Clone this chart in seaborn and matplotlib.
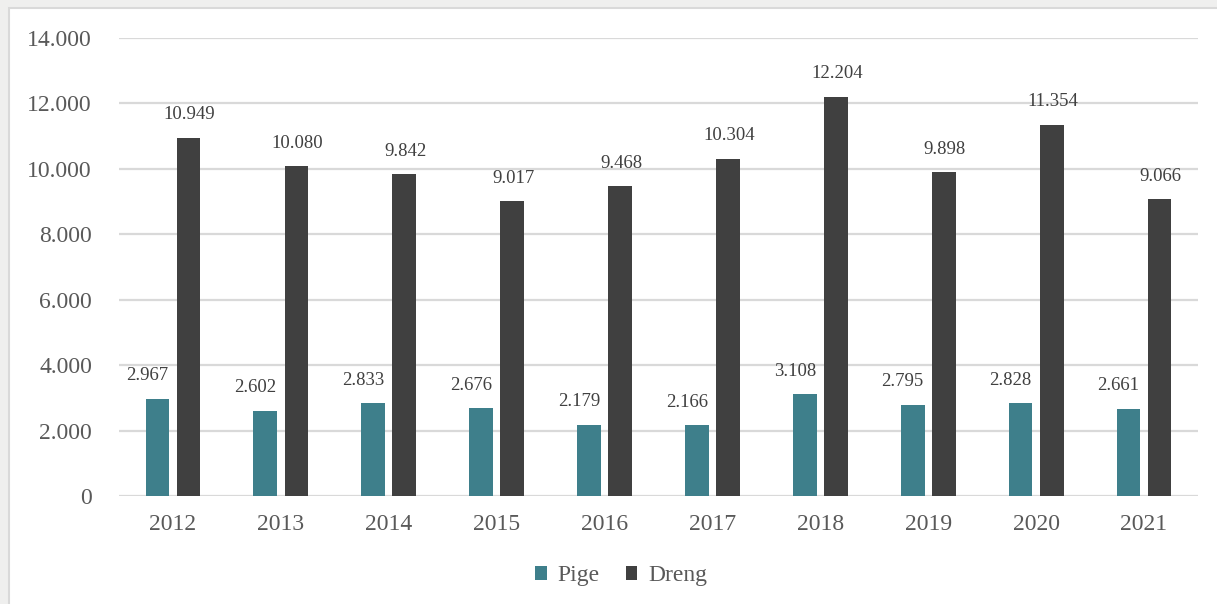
import matplotlib
matplotlib.use("Agg")
import matplotlib.pyplot as plt
import seaborn as sns
import pandas as pd
from matplotlib.patches import Rectangle

years = ["2012", "2013", "2014", "2015", "2016", "2017", "2018", "2019", "2020", "2021"]
pige = [2967, 2602, 2833, 2676, 2179, 2166, 3108, 2795, 2828, 2661]
dreng = [10949, 10080, 9842, 9017, 9468, 10304, 12204, 9898, 11354, 9066]
series = ["Pige", "Dreng"]
colors = ["#3e7f8b", "#404040"]
yticks = [0, 2000, 4000, 6000, 8000, 10000, 12000, 14000]

df = pd.DataFrame({
    "year": years * 2,
    "value": pige + dreng,
    "series": ["Pige"] * len(years) + ["Dreng"] * len(years),
})

sns.set_theme(style="white")
plt.rcParams["font.family"] = ["Liberation Serif", "DejaVu Serif"]

W, H = 1217, 604
fig = plt.figure(figsize=(W / 100, H / 100), dpi=100)
fig.patch.set_facecolor("#efefee")
fig.patches.append(Rectangle((9 / W, -0.01), 1.0, 1.01 - 8 / H, transform=fig.transFigure,
                             facecolor="white", edgecolor="#d9d9d9", linewidth=1.5, zorder=-5))

ax = fig.add_axes([119 / W, 1 - 496 / H, (1198 - 119) / W, (496 - 38) / H])
ax.set_facecolor("none")
ax.set_zorder(2)

sns.barplot(data=df, x="year", y="value", hue="series", hue_order=series,
            palette=colors, width=0.576, gap=0.236, dodge=True, ax=ax,
            legend=True, saturation=1, edgecolor="none")

ax.set_ylim(0, 14000)
ax.set_xlim(-0.5, len(years) - 0.5)
ax.set_yticks(yticks)
ax.set_yticklabels([f"{v:,}".replace(",", ".") for v in yticks])
ax.grid(axis="y", color="#d9d9d9", linewidth=1.6)
ax.set_axisbelow(True)
for s in ax.spines.values():
    s.set_visible(False)
ax.tick_params(axis="both", length=0, labelsize=17, labelcolor="#595959")
ax.tick_params(axis="y", pad=19.5)
ax.tick_params(axis="x", pad=13)
ax.set_xlabel("")
ax.set_ylabel("")

# value labels
offsets = {"Pige": -10, "Dreng": 1}
for container, name in zip(ax.containers, series):
    for bar in container:
        h = bar.get_height()
        x = bar.get_x() + bar.get_width() / 2
        ax.annotate(f"{int(h):,}".replace(",", "."), (x, h),
                    xytext=(offsets[name] * 0.72, 23 * 0.72), textcoords="offset points",
                    ha="center", va="center", fontsize=13.5, color="#404040")

leg = ax.get_legend()
handles = leg.legend_handles
leg.remove()
fig.legend(handles, series, loc="center", bbox_to_anchor=(621 / W, 1 - 576 / H),
           ncol=2, frameon=False, fontsize=17, handlelength=0.5, handleheight=0.5,
           handletextpad=0.45, columnspacing=1.1, labelcolor="#595959")

fig.savefig("out.png", dpi=100, facecolor=fig.get_facecolor())
